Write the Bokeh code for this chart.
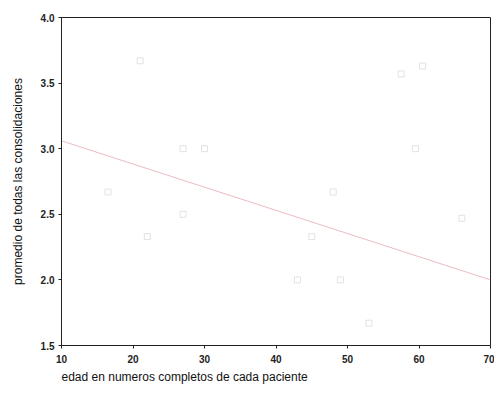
from bokeh.plotting import figure
from bokeh.models import Range1d, FixedTicker, Title
from bokeh.embed import file_html
from bokeh.resources import INLINE

edad = [16.5, 21, 22, 27, 27, 30, 43, 45, 48, 49, 53, 57.5, 60.5, 59.5, 66]
promedio = [2.67, 3.67, 2.33, 3.0, 2.5, 3.0, 2.0, 2.33, 2.67, 2.0, 1.67, 3.57, 3.63, 3.0, 2.47]
fit_x = [10, 70]
fit_y = [3.06, 2.0]
x_ticks = [10, 20, 30, 40, 50, 60, 70]
y_ticks = [1.5, 2.0, 2.5, 3.0, 3.5, 4.0]

p = figure(width=494, height=385, output_backend="svg", toolbar_location=None,
           x_range=Range1d(10, 70), y_range=Range1d(1.5, 4.0),
           min_border_left=61, min_border_top=17, min_border_right=4, min_border_bottom=10)
p.background_fill_color = "white"
p.border_fill_color = "white"
p.outline_line_color = "#222222"
p.outline_line_width = 1
p.xgrid.visible = False
p.ygrid.visible = False

p.scatter(edad, promedio, marker="square", size=6, fill_color=None,
          line_color="#e2e2e2", line_width=1)
p.line(fit_x, fit_y, line_color="#ebbcc0", line_width=1)

for ax in (p.xaxis[0], p.yaxis[0]):
    ax.major_tick_out = 3
    ax.major_tick_in = 0
    ax.minor_tick_line_color = None
    ax.axis_line_color = "#222222"
    ax.major_tick_line_color = "#222222"
    ax.major_label_text_font = "Liberation Sans"
    ax.major_label_text_font_size = "10px"
    ax.major_label_text_font_style = "bold"
    ax.major_label_text_color = "#222222"

p.xaxis.ticker = FixedTicker(ticks=x_ticks)
p.yaxis.ticker = FixedTicker(ticks=y_ticks)
p.yaxis.major_label_overrides = {1.5: "1.5", 2.0: "2.0", 2.5: "2.5", 3.0: "3.0", 3.5: "3.5", 4.0: "4.0"}
p.yaxis.major_label_standoff = 4
p.xaxis.major_label_standoff = 6

p.yaxis.axis_label = "promedio de todas las consolidaciones"
p.yaxis.axis_label_text_font = "Liberation Sans"
p.yaxis.axis_label_text_font_size = "12px"
p.yaxis.axis_label_text_font_style = "normal"
p.yaxis.axis_label_text_color = "#111111"
p.yaxis.axis_label_standoff = 13

t = Title(text="edad en numeros completos de cada paciente", align="left",
          text_font="Liberation Sans", text_font_size="12px", text_font_style="normal",
          text_color="#111111", offset=0, standoff=4)
p.add_layout(t, "below")

open("out.html", "w").write(file_html(p, INLINE))
